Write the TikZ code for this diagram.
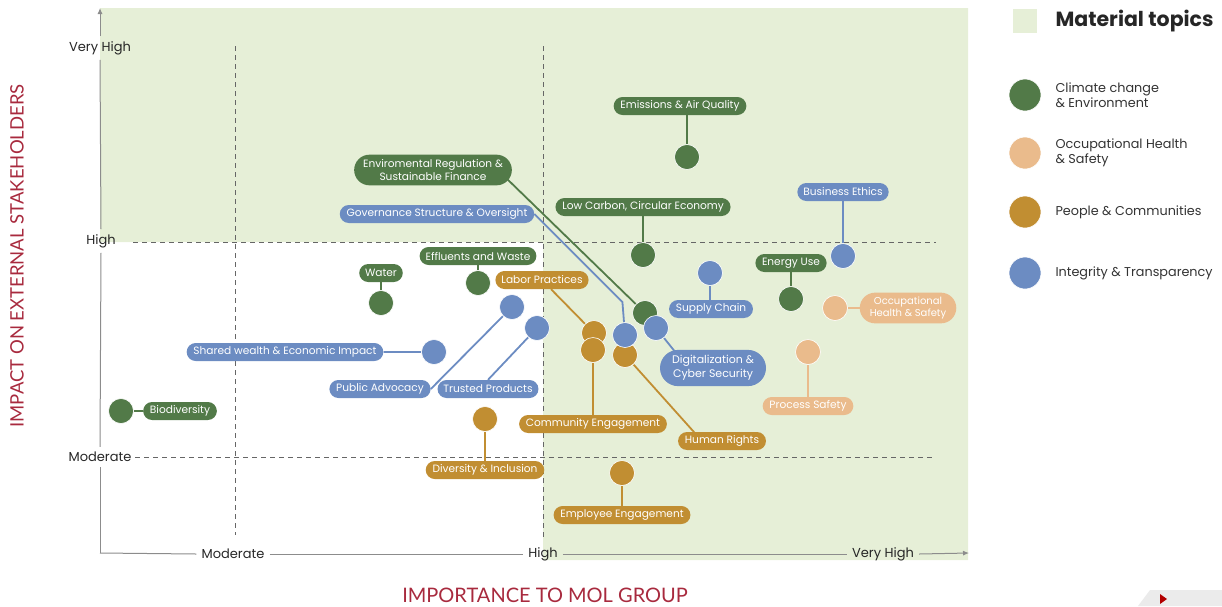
\documentclass[tikz,border=0pt]{standalone}
\usepackage{fontspec}
\setmainfont{Poppins}
\newfontfamily\axfont{Lato}
\usetikzlibrary{shapes.misc,arrows.meta,calc}
\definecolor{cgreen}{RGB}{82,122,72}
\definecolor{cpeach}{RGB}{234,187,140}
\definecolor{cmust}{RGB}{193,142,50}
\definecolor{cblue}{RGB}{108,140,194}
\definecolor{bggreen}{RGB}{230,239,215}
\definecolor{axred}{RGB}{168,42,62}
\pgfdeclarelayer{bg}
\pgfdeclarelayer{lines}
\pgfsetlayers{bg,lines,main}
\begin{document}
\begin{tikzpicture}[x=1pt,y=-1pt,
  lab/.style={rounded rectangle, fill=#1, text=white, font=\fontsize{10.6}{12.5}\selectfont,
    inner xsep=5pt, inner ysep=2.5pt, minimum height=18pt, align=center},
  bub/.style={circle, fill=#1, draw=white, line width=0.6pt, minimum size=25pt, inner sep=0pt},
  con/.style={draw=#1, line width=1.8pt},
  ticklab/.style={font=\fontsize{13}{15}\selectfont, text=black!85, inner sep=5pt},
  gridline/.style={draw=black!60, dash pattern=on 5pt off 4pt, line width=0.8pt},
  axisline/.style={draw=black!45, line width=1pt},
  legtext/.style={anchor=west, align=left, font=\fontsize{12.8}{15}\selectfont, text=black!80},
  axtitle/.style={font=\axfont\fontsize{18.5}{21}\selectfont, text=axred}]
\useasboundingbox (0,0) rectangle (1222,606);

% background
\begin{pgfonlayer}{bg}
\fill[bggreen] (100,8) -- (968,8) -- (968,560) -- (543,560) -- (543,242) -- (100,242) -- cycle;
\draw[gridline] (133,242) -- (936,242);
\draw[gridline] (135,457) -- (932,457);
\draw[gridline] (235,46) -- (235,535);
\draw[gridline] (543,46) -- (543,538);
\fill[black!8] (1138,606) -- (1150,590) -- (1222,590) -- (1222,606) -- cycle;
\fill[red!70!black] (1160,594) -- (1167,599) -- (1160,604) -- cycle;
\end{pgfonlayer}

% axes
\coordinate (O) at (100,553);
\coordinate (ytop) at (100,8);
\coordinate (xend) at (969,553);
\node[ticklab] (yVH) at (100,48) {Very High};
\node[ticklab] (yHi) at (101,241) {High};
\node[ticklab] (yMo) at (100,457) {Moderate};
\node[ticklab] (xMo) at (233,554) {Moderate};
\node[ticklab] (xHi) at (543,554) {High};
\node[ticklab] (xVH) at (883,554) {Very High};
\draw[axisline] (O) -- (yMo.south);
\draw[axisline] (yMo.north) -- (yHi.south);
\draw[axisline] (yHi.north) -- (yVH.south);
\draw[axisline,-{Latex[length=6pt,width=5pt]}] (yVH.north) -- (ytop);
\draw[axisline] (O) -- (xMo.west);
\draw[axisline] (xMo.east) -- (xHi.west);
\draw[axisline] (xHi.east) -- (xVH.west);
\draw[axisline,-{Latex[length=6pt,width=5pt]}] (xVH.east) -- (xend);
\node[axtitle, rotate=90] (ytitle) at (17,256) {IMPACT ON EXTERNAL STAKEHOLDERS};
\node[axtitle, font=\axfont\fontsize{20}{22}\selectfont] (xtitle) at (545,595) {IMPORTANCE TO MOL GROUP};

% labels
\node[lab=cgreen] (emiL) at (680,106) {Emissions \& Air Quality};
\node[lab=cgreen, inner ysep=5pt] (envL) at (433,170) {Enviromental Regulation \&\\Sustainable Finance};
\node[lab=cblue] (govL) at (437,214) {Governance Structure \& Oversight};
\node[lab=cgreen] (lowL) at (643,207) {Low Carbon, Circular Economy};
\node[lab=cblue] (busL) at (843,192) {Business Ethics};
\node[lab=cgreen] (eneL) at (791,263) {Energy Use};
\node[lab=cpeach, inner ysep=4pt, font=\fontsize{10}{12.5}\selectfont] (ohsL) at (908,308) {Occupational\\Health \& Safety};
\node[lab=cpeach] (proL) at (808,406) {Process Safety};
\node[lab=cblue] (supL) at (711,309) {Supply Chain};
\node[lab=cblue, font=\fontsize{11}{14}\selectfont, inner ysep=5.5pt, inner xsep=7pt] (digL) at (713,368) {Digitalization \&\\Cyber Security};
\node[lab=cmust] (labL) at (542,280) {Labor Practices};
\node[lab=cmust] (comL) at (593,424) {Community Engagement};
\node[lab=cmust] (hrL) at (722,441) {Human Rights};
\node[lab=cmust] (empL) at (622,515) {Employee Engagement};
\node[lab=cmust] (divL) at (485,470) {Diversity \& Inclusion};
\node[lab=cblue] (truL) at (488,389) {Trusted Products};
\node[lab=cblue] (pubL) at (380,389) {Public Advocacy};
\node[lab=cblue] (shL) at (285,352) {Shared wealth \& Economic Impact};
\node[lab=cgreen] (bioL) at (180,411) {Biodiversity};
\node[lab=cgreen] (watL) at (381,273) {Water};
\node[lab=cgreen] (effL) at (478,256) {Effluents and Waste};

% bubbles
\node[bub=cgreen] (emiD) at (687,157) {};
\node[bub=cgreen] (lowD) at (643,255) {};
\node[bub=cblue] (busD) at (843,256) {};
\node[bub=cgreen] (eneD) at (791,299) {};
\node[bub=cpeach] (ohsD) at (835,308) {};
\node[bub=cpeach] (proD) at (808,352) {};
\node[bub=cblue] (supD) at (710,273) {};
\node[bub=cmust] (hrD) at (625,355) {};
\node[bub=cmust] (labD) at (594,333) {};
\node[bub=cmust] (comD) at (593,350) {};
\node[bub=cgreen] (envD) at (645,313) {};
\node[bub=cblue] (govD) at (625,335) {};
\node[bub=cblue] (digD) at (656,328) {};
\node[bub=cmust] (empD) at (622,473) {};
\node[bub=cmust] (divD) at (485,419) {};
\node[bub=cblue] (truD) at (537,328) {};
\node[bub=cblue] (pubD) at (512,307) {};
\node[bub=cblue] (shD) at (434,352) {};
\node[bub=cgreen] (bioD) at (121,411) {};
\node[bub=cgreen] (watD) at (381,303) {};
\node[bub=cgreen] (effD) at (478,283) {};

% connectors
\begin{pgfonlayer}{lines}
\draw[con=cgreen] (emiD) -- (emiD |- emiL);
\draw[con=cgreen] ($(envL.center)+(70,5)$) -- (envD);
\draw[con=cblue] (govL.east) -- ++(88,88) -- (govD);
\draw[con=cgreen] (lowD) -- (lowL);
\draw[con=cblue] (busD) -- (busL);
\draw[con=cgreen] (eneD) -- (eneL);
\draw[con=cpeach] (ohsD) -- (ohsL);
\draw[con=cpeach] (proD) -- (proL);
\draw[con=cblue] (supD) -- (supD |- supL);
\draw[con=cblue] (digD) -- ([xshift=-25pt]digL.center);
\draw[con=cmust] (labL) -- (labD);
\draw[con=cmust] (comD) -- (comL);
\draw[con=cmust] (hrD) -- ([xshift=-20pt]hrL.center);
\draw[con=cmust] (empD) -- (empL);
\draw[con=cmust] (divD) -- (divL);
\draw[con=cblue] (truL.north) -- (truD);
\draw[con=cblue] (pubL.east) -- (pubD);
\draw[con=cblue] (shL) -- (shD);
\draw[con=cgreen] (bioD) -- (bioL);
\draw[con=cgreen] (watD) -- (watL);
\draw[con=cgreen] (effD) -- (effL);
\end{pgfonlayer}

% legend
\node[fill=bggreen, minimum size=24pt, inner sep=0pt] (legsq) at (1025,21) {};
\node[anchor=west, font=\fontsize{20.5}{23}\selectfont\bfseries, text=black!85] (legtitle) at (1052,21) {Material topics};
\node[bub=cgreen, minimum size=32pt] (lg1) at (1025,95) {};
\node[legtext] (lt1) at (1052,95) {Climate change\\\& Environment};
\node[bub=cpeach, minimum size=32pt] (lg2) at (1025,153) {};
\node[legtext] (lt2) at (1052,153) {Occupational Health\\\& Safety};
\node[bub=cmust, minimum size=32pt] (lg3) at (1025,212) {};
\node[legtext] (lt3) at (1052,212) {People \& Communities};
\node[bub=cblue, minimum size=32pt] (lg4) at (1025,273) {};
\node[legtext] (lt4) at (1052,273) {Integrity \& Transparency};
\end{tikzpicture}
\end{document}
